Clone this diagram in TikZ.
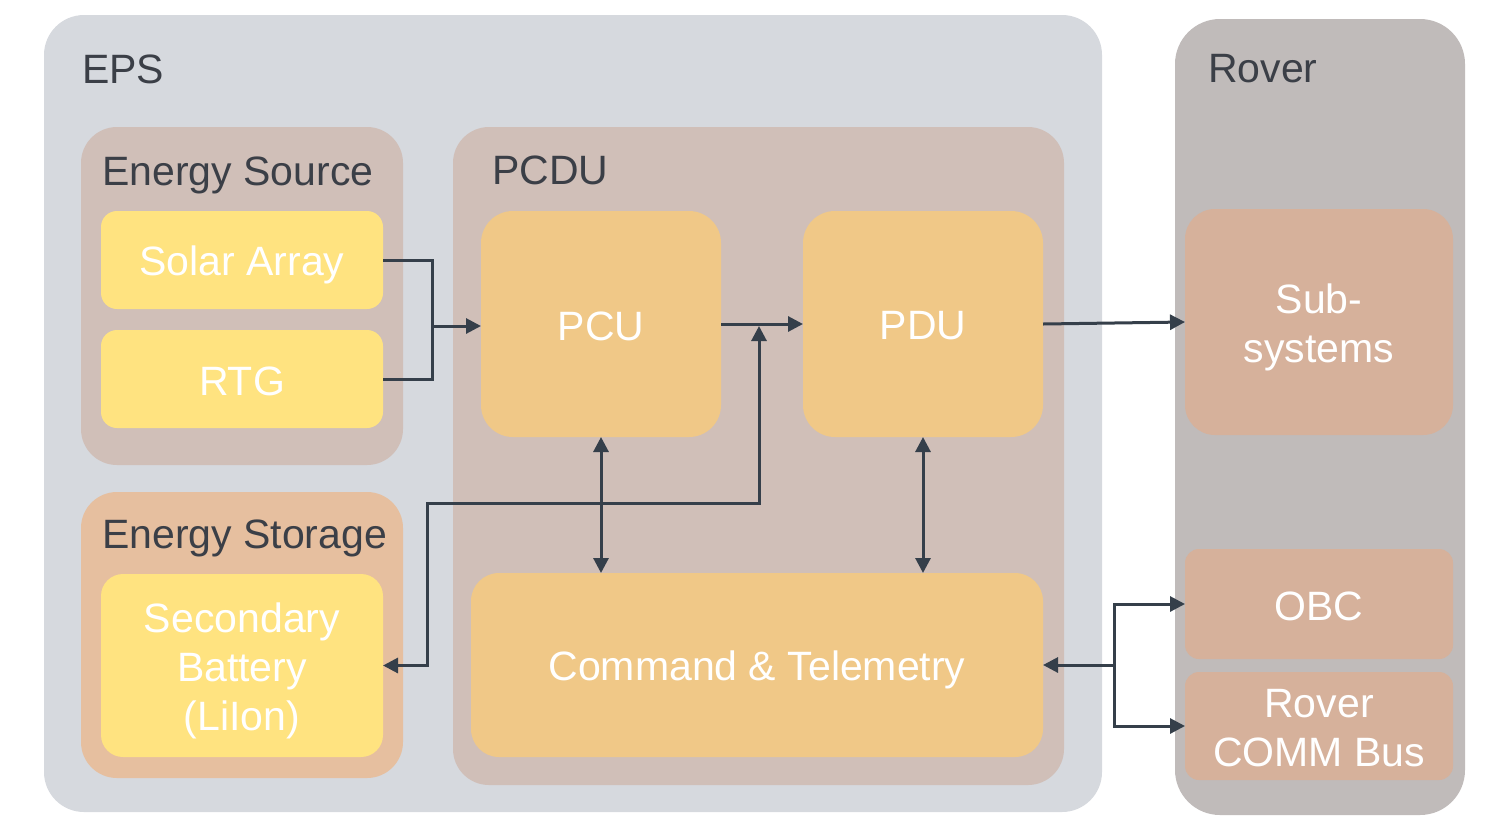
\documentclass[tikz,border=0pt]{standalone}
\usepackage{fontspec}
\setmainfont{Liberation Sans}
\usetikzlibrary{arrows.meta}
\definecolor{epsbg}{HTML}{D6D9DE}
\definecolor{grpbg}{HTML}{D0BFB8}
\definecolor{storbg}{HTML}{E6BF9F}
\definecolor{yel}{HTML}{FFE380}
\definecolor{org}{HTML}{F0C887}
\definecolor{roverbg}{HTML}{C0BBBA}
\definecolor{rovbox}{HTML}{D6B19B}
\definecolor{ink}{HTML}{353F4A}
\definecolor{txt}{HTML}{3B3F47}
\tikzset{
  box/.style={inner sep=0pt, outer sep=0pt, draw=none},
  lbl/.style={inner sep=0pt, text=white, align=center, font=\fontsize{41}{49}\selectfont},
  grplabel/.style={anchor=base west, inner sep=0pt, text=txt, font=\fontsize{41}{48}\selectfont},
  conn/.style={draw=ink, line width=3pt},
  arr/.style={conn, -{Triangle[length=15pt,width=15pt]}},
  barr/.style={conn, {Triangle[length=15pt,width=15pt]}-{Triangle[length=15pt,width=15pt]}},
}
\begin{document}
\begin{tikzpicture}[x=1pt,y=-1pt]
\useasboundingbox (0,0) rectangle (1487,839);
% containers
\node[box, fill=epsbg, rounded corners=40pt, minimum width=1058pt, minimum height=797pt] (eps) at (573,413.5) {};
\node[box, fill=roverbg, rounded corners=45pt, minimum width=290pt, minimum height=796pt] (rover) at (1320,417) {};
\node[box, fill=grpbg, rounded corners=36pt, minimum width=322pt, minimum height=338pt] (esrc) at (242,296) {};
\node[box, fill=storbg, rounded corners=36pt, minimum width=322pt, minimum height=286pt] (estor) at (242,635) {};
\node[box, fill=grpbg, rounded corners=36pt, minimum width=611pt, minimum height=658pt] (pcdu) at (758.5,456) {};
% group labels
\node[grplabel] (lEPS) at (82,83) {EPS};
\node[grplabel] (lRover) at (1208,82) {Rover};
\node[grplabel] (lES) at (102,185) {Energy Source};
\node[grplabel] (lPCDU) at (492,184) {PCDU};
\node[grplabel] (lST) at (102,548) {Energy Storage};
% inner boxes
\node[box, fill=yel, rounded corners=16pt, minimum width=282pt, minimum height=98pt] (solar) at (242,260) {};
\node[box, fill=yel, rounded corners=16pt, minimum width=282pt, minimum height=98pt] (rtg) at (242,379) {};
\node[box, fill=yel, rounded corners=22pt, minimum width=282pt, minimum height=183pt] (bat) at (242,665.5) {};
\node[box, fill=org, rounded corners=32pt, minimum width=240pt, minimum height=226pt] (pcu) at (601,324) {};
\node[box, fill=org, rounded corners=32pt, minimum width=240pt, minimum height=226pt] (pdu) at (923,324) {};
\node[box, fill=org, rounded corners=28pt, minimum width=572pt, minimum height=184pt] (ct) at (757,665) {};
\node[box, fill=rovbox, rounded corners=30pt, minimum width=268pt, minimum height=226pt] (sub) at (1319,322) {};
\node[box, fill=rovbox, rounded corners=14pt, minimum width=268pt, minimum height=110pt] (obc) at (1319,604) {};
\node[box, fill=rovbox, rounded corners=14pt, minimum width=268pt, minimum height=108pt] (comm) at (1319,726) {};
% inner labels
\node[lbl] (tsolar) at ([yshift=-5pt]solar.center) {Solar Array};
\node[lbl] (trtg) at ([yshift=-2pt]rtg.center) {RTG};
\node[lbl] (tbat) at ([yshift=-5pt]bat.center) {Secondary\\Battery\\(LiIon)};
\node[lbl] (tpcu) at ([yshift=-2pt]pcu.center) {PCU};
\node[lbl] (tpdu) at ([yshift=-2pt]pdu.center) {PDU};
\node[lbl] (tct) at ([yshift=-5pt]ct.center) {Command \& Telemetry};
\node[lbl] (tsub) at ([yshift=-5pt]sub.center) {Sub-\\systems};
\node[lbl] (tobc) at ([yshift=-2pt]obc.center) {OBC};
\node[lbl] (tcomm) at ([yshift=-2pt]comm.center) {Rover\\COMM Bus};
% connectors
\coordinate (j1) at (432,326);
\draw[conn] (solar.east) -| (j1) |- (rtg.east);
\draw[arr] (j1) -- (pcu.west |- j1);
\draw[arr] (pcu.east) -- (pdu.west);
\coordinate (j2) at (759,326);
\coordinate (j3) at (427,503);
\draw[barr] (j2) |- (j3) |- (bat.east);
\draw[barr] (pcu.south) -- (pcu.south |- ct.north);
\draw[barr] (pdu.south) -- (pdu.south |- ct.north);
\draw[arr] (pdu.east) -- (sub.west);
\coordinate (j4) at (1114,665);
\draw[arr] (j4) -- (ct.east);
\draw[arr] (j4) |- (obc.west);
\draw[arr] (j4) |- (comm.west);
\end{tikzpicture}
\end{document}
